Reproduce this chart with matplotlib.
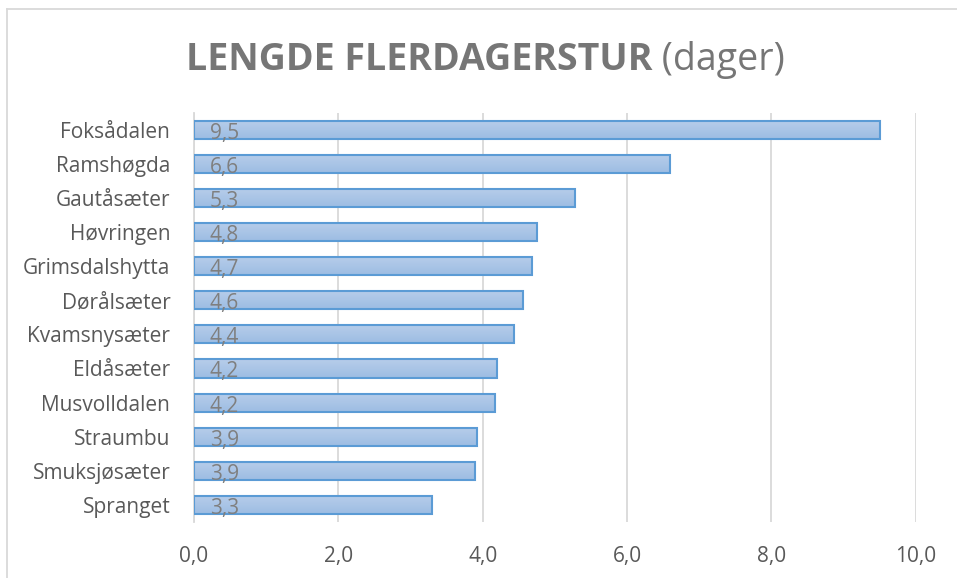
import numpy as np
import matplotlib
matplotlib.use('Agg')
import matplotlib.pyplot as plt
from matplotlib.lines import Line2D
import matplotlib.transforms as mtransforms

# data
steder = ['Foksådalen', 'Ramshøgda', 'Gautåsæter', 'Høvringen', 'Grimsdalshytta',
          'Dørålsæter', 'Kvamsnysæter', 'Eldåsæter', 'Musvolldalen', 'Straumbu',
          'Smuksjøsæter', 'Spranget']
dager = [9.5, 6.6, 5.28, 4.75, 4.69, 4.56, 4.43, 4.2, 4.17, 3.92, 3.9, 3.3]
xticks = [0, 2, 4, 6, 8, 10]

plt.rcParams['font.family'] = ['Open Sans', 'DejaVu Sans']
grey = '#595959'

fig = plt.figure(figsize=(9.57, 5.78), dpi=100)
ax = fig.add_axes([0.2027, 0.097, 0.7541, 0.708])

y = np.arange(len(steder))[::-1]
h = 0.53
# gradient fill for bars
grad = np.linspace(0, 1, 50).reshape(-1, 1)
cmap = matplotlib.colors.LinearSegmentedColormap.from_list('bar', ['#9dbde3', '#b7cdea'])
for yi, v in zip(y, dager):
    ax.imshow(grad, cmap=cmap, aspect='auto', extent=[0, v, yi - h / 2, yi + h / 2],
              origin='lower', zorder=2, interpolation='bilinear')
ax.barh(y, dager, height=h, facecolor='none', edgecolor='#5b9bd5', linewidth=1.5, zorder=3)

# data labels, nudged down a little like the original
shift = mtransforms.offset_copy(ax.transData, fig=fig, x=0, y=-2.5, units='points')
for yi, v in zip(y, dager):
    ax.text(0.22, yi, ('%.1f' % v).replace('.', ','), va='center', ha='left',
            fontsize=15, color='#7f7f7f', zorder=4, transform=shift)

ax.set_xlim(0, 10)
ax.set_ylim(-0.5, len(steder) - 0.5)
ax.set_xticks(xticks)
ax.set_xticklabels([('%.1f' % t).replace('.', ',') for t in xticks])
ax.set_yticks(y)
ax.set_yticklabels(steder)
ax.tick_params(axis='both', length=0, labelsize=15, colors=grey)
ax.tick_params(axis='x', pad=17)
ax.tick_params(axis='y', pad=17)
ax.grid(axis='x', color='#d9d9d9', linewidth=1.3, zorder=0)
ax.set_axisbelow(True)
for s in ['top', 'right', 'bottom']:
    ax.spines[s].set_visible(False)
ax.spines['left'].set_color('#d9d9d9')
ax.spines['left'].set_linewidth(1.3)

# title: bold part + regular part, centred together
t1 = fig.text(0, 0.896, 'LENGDE FLERDAGERSTUR', ha='left', va='center', fontsize=27,
              fontweight='bold', color='#767676')
t2 = fig.text(0, 0.896, ' (dager)', ha='left', va='center', fontsize=27, color='#767676')
r = fig.canvas.get_renderer()
w1 = t1.get_window_extent(r).width / fig.bbox.width
w2 = t2.get_window_extent(r).width / fig.bbox.width
x0 = 0.507 - (w1 + w2) / 2
t1.set_x(x0)
t2.set_x(x0 + w1)

# outer frame
fig.add_artist(Line2D([6.5 / 957, 6.5 / 957], [0, 1 - 8.5 / 578], color='#d9d9d9', lw=1.3))
fig.add_artist(Line2D([6.5 / 957, 1], [1 - 8.5 / 578, 1 - 8.5 / 578], color='#d9d9d9', lw=1.3))

fig.savefig('out.png', dpi=100)
